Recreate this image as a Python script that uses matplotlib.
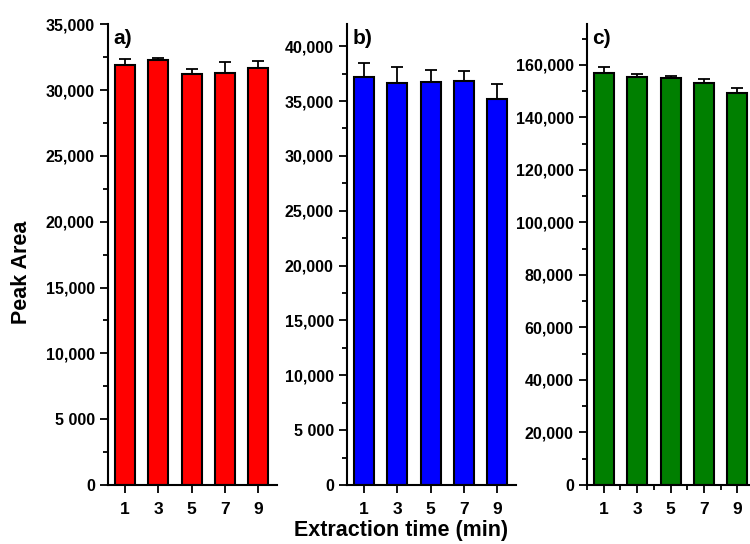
import matplotlib
matplotlib.use("Agg")
import matplotlib.pyplot as plt
from matplotlib.ticker import FuncFormatter, MultipleLocator

plt.rcParams["font.family"] = ["Liberation Sans", "DejaVu Sans"]
plt.rcParams["font.weight"] = "bold"

# Данные: время экстракции и площади пиков для трёх панелей
times = [1, 3, 5, 7, 9]

area_a = [31930, 32260, 31250, 31300, 31700]
err_a = [430, 200, 350, 860, 500]

area_b = [37180, 36630, 36720, 36790, 35200]
err_b = [1240, 1460, 1090, 930, 1370]

area_c = [157070, 155280, 155050, 153260, 149330]
err_c = [2280, 1400, 870, 1520, 1750]

panel_labels = ["a)", "b)", "c)"]
colors = ["#FF0000", "#0000FF", "#007F00"]


def fmt(v, pos):
    v = int(round(v))
    if v == 0:
        return "0"
    if v < 10000:
        return "{:,}".format(v).replace(",", " ")
    return "{:,}".format(v)


fig = plt.figure(figsize=(7.5, 5.44), dpi=100)

panels = [
    (area_a, err_a, 0.144, 35000, 5000, False),
    (area_b, err_b, 0.4627, 42000, 5000, False),
    (area_c, err_c, 0.7827, 175500, 20000, True),
]

for i, (vals, errs, left, ytop, ystep, xminor) in enumerate(panels):
    ax = fig.add_axes([left, 0.1085, 0.225, 0.847])
    ax.bar(times, vals, width=1.2, color=colors[i], edgecolor="black",
           linewidth=1.5, zorder=2)
    ax.errorbar(times, vals, yerr=[[0] * 5, errs], fmt="none",
                ecolor="black", elinewidth=1.3, capsize=4, capthick=1.3,
                zorder=1)
    ax.set_xlim(0, 10.1)
    ax.set_ylim(0, ytop)
    ax.set_xticks(times)
    ax.yaxis.set_major_locator(MultipleLocator(ystep))
    ax.yaxis.set_minor_locator(MultipleLocator(ystep / 2))
    if xminor:
        ax.set_xticks([0, 2, 4, 6, 8], minor=True)
    ax.yaxis.set_major_formatter(FuncFormatter(fmt))
    for s in ["top", "right"]:
        ax.spines[s].set_visible(False)
    for s in ["left", "bottom"]:
        ax.spines[s].set_linewidth(1.5)
    ax.tick_params(which="major", length=6, width=1.3)
    ax.tick_params(which="minor", length=3.5, width=1.3)
    ax.tick_params(axis="y", which="major", labelsize=11.5)
    ax.tick_params(axis="x", which="major", labelsize=12.5, pad=6)
    for lab in ax.get_xticklabels() + ax.get_yticklabels():
        lab.set_fontweight("bold")
    ax.text(0.03, 0.99, panel_labels[i], transform=ax.transAxes,
            fontsize=15, fontweight="bold", va="top", ha="left")

fig.text(0.029, 0.5, "Peak Area", rotation=90, fontsize=15.5,
         fontweight="bold", va="center", ha="center")
fig.text(0.535, 0.025, "Extraction time (min)", fontsize=15.5,
         fontweight="bold", va="center", ha="center")

fig.savefig("out.png", dpi=100)
plt.close(fig)
